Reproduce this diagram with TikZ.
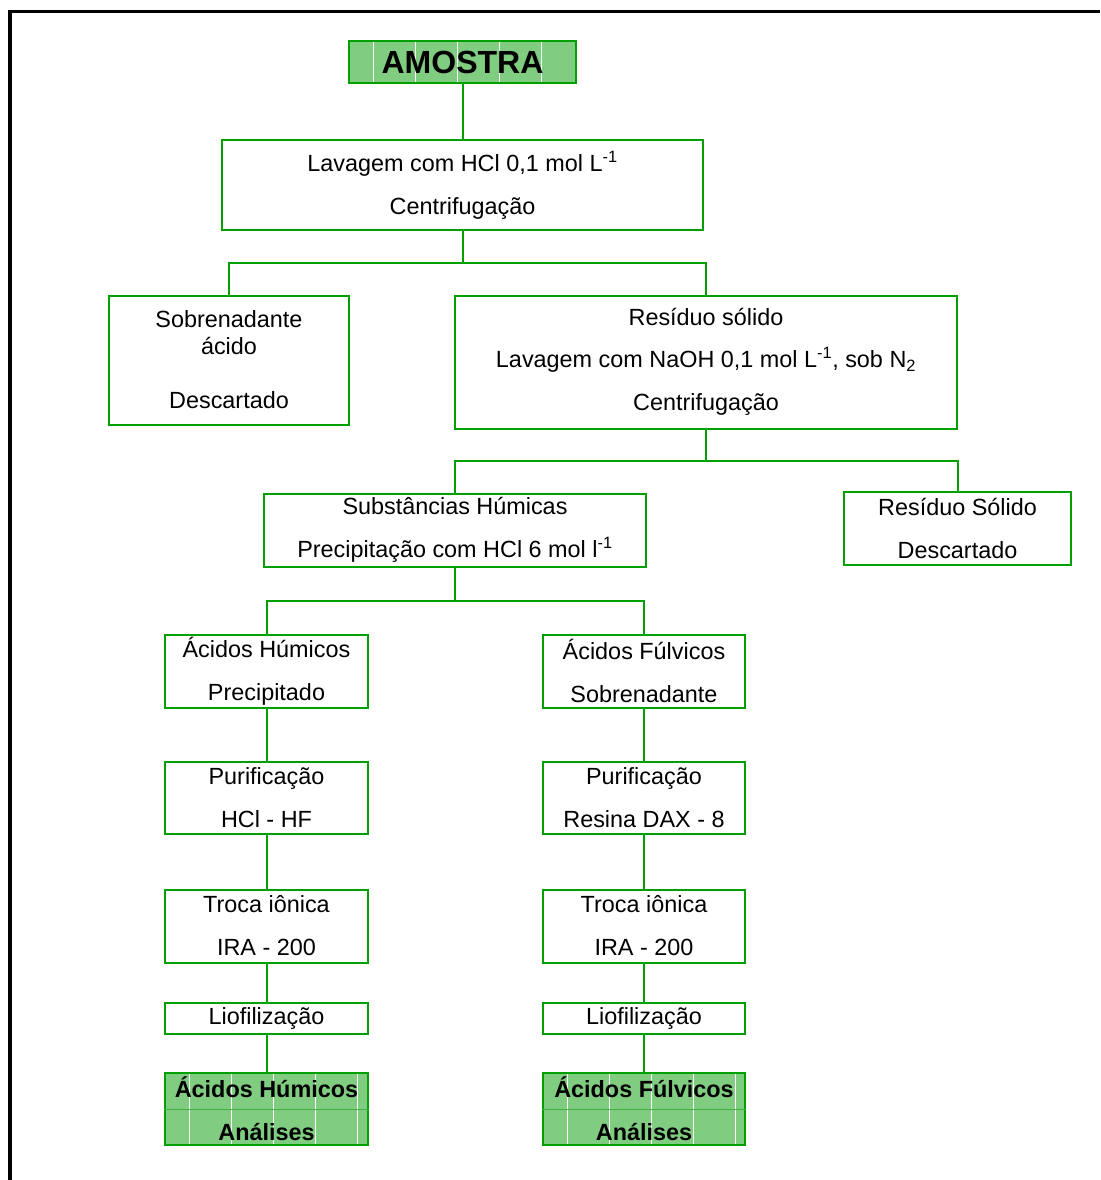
\documentclass[tikz,border=0pt]{standalone}
\usepackage{fontspec}
\setmainfont{Liberation Sans}
\usetikzlibrary{positioning}
\definecolor{verde}{RGB}{0,160,0}
\definecolor{verdeclaro}{RGB}{128,204,128}
\definecolor{verdemedio}{RGB}{70,175,70}
\tikzstyle{etapa}=[draw=verde,line width=2pt,inner sep=0pt,align=center,
    font=\fontsize{23.4}{27}\selectfont]
\tikzstyle{resultado}=[etapa,fill=verdeclaro,font=\fontsize{23.4}{27}\selectfont\bfseries,
    path picture={\foreach \k in {24,66,108,150,192}
      \draw[white,line width=1pt] ([xshift=\k pt]path picture bounding box.north west)
        -- ([xshift=\k pt]path picture bounding box.south west);}]
\tikzstyle{ligacao}=[draw=verde,line width=2pt]
\newcommand{\newEtapa}[6]{\node[#2,minimum width=#4pt,minimum height=#5pt](#1) at (#3) {#6};}
\newcommand{\newLigacao}[2]{\path[ligacao] (#1.south) -- (#2.north);}
\newcommand{\newRamo}[4]{\path[ligacao] (#1.south) -- ++(0,#4) -| (#2.north);
    \path[ligacao] (#1.south) -- ++(0,#4) -| (#3.north);}

\begin{document}
\begin{tikzpicture}[x=1pt,y=-1pt]
    \useasboundingbox (0,0) rectangle (1100,1180);
    \draw[line width=3.5pt] (1100,11.5) -| (10,1180);
    % extracao
    \newEtapa{amostra}{resultado}{462.5,62}{227}{42}{\fontsize{32}{36}\selectfont AMOSTRA}
    \newEtapa{lav}{etapa}{462.5,185}{481}{90}{Lavagem com HCl 0,1 mol L\textsuperscript{-1}\\[16pt]Centrifugação}
    \newEtapa{sob}{etapa}{229,360}{240}{129}{Sobrenadante\\ácido\\[27pt]Descartado}
    \newEtapa{res}{etapa}{706,362}{502}{133}{Resíduo sólido\\[15pt]Lavagem com NaOH 0,1 mol L\textsuperscript{-1}, sob N\textsubscript{2}\\[16pt]Centrifugação}
    \newEtapa{sh}{etapa}{455,530}{382}{73}{Substâncias Húmicas\\[16pt]Precipitação com HCl 6 mol l\textsuperscript{-1}}
    \newEtapa{rsd}{etapa}{957.5,528}{227}{73}{Resíduo Sólido\\[16pt]Descartado}
    % acidos humicos
    \newEtapa{ah}{etapa}{266.5,671}{203}{73}{Ácidos Húmicos\\[16pt]Precipitado}
    \newEtapa{puh}{etapa}{266.5,798}{203}{72}{Purificação\\[16pt]HCl - HF}
    \newEtapa{trh}{etapa}{266.5,926}{203}{73}{Troca iônica\\[16pt]IRA - 200}
    \newEtapa{lih}{etapa}{266.5,1018}{203}{31}{Liofilização}
    \newEtapa{rh}{resultado}{266.5,1109}{203}{72}{Ácidos Húmicos\\[16pt]Análises}
    % acidos fulvicos
    \newEtapa{af}{etapa}{644,671}{202}{73}{Ácidos Fúlvicos\\[16pt]Sobrenadante}
    \newEtapa{puf}{etapa}{644,798}{202}{72}{Purificação\\[16pt]Resina DAX - 8}
    \newEtapa{trf}{etapa}{644,926}{202}{73}{Troca iônica\\[16pt]IRA - 200}
    \newEtapa{lif}{etapa}{644,1018}{202}{31}{Liofilização}
    \newEtapa{rf}{resultado}{644,1109}{202}{72}{Ácidos Fúlvicos\\[16pt]Análises}
    \draw[verdemedio,line width=1pt] (rh.west) -- (rh.east) (rf.west) -- (rf.east);
    % ligacoes
    \newLigacao{amostra}{lav}
    \newRamo{lav}{sob}{res}{32}
    \newRamo{res}{sh}{rsd}{31}
    \newRamo{sh}{ah}{af}{33}
    \newLigacao{ah}{puh}
    \newLigacao{puh}{trh}
    \newLigacao{trh}{lih}
    \newLigacao{lih}{rh}
    \newLigacao{af}{puf}
    \newLigacao{puf}{trf}
    \newLigacao{trf}{lif}
    \newLigacao{lif}{rf}
  \end{tikzpicture}
\end{document}
